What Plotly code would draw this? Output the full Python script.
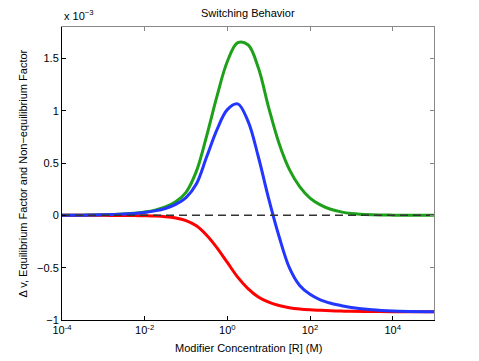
import plotly.graph_objects as go

# modifier concentration [R] (M), as decade exponents
log_conc = [-4, -3.5, -3, -2.5, -2.25, -2, -1.75, -1.5, -1.25, -1, -0.75, -0.5, -0.25,
            0, 0.25, 0.5, 0.75, 1, 1.25, 1.5, 1.75, 2, 2.25, 2.5, 2.75, 3, 3.5, 4, 5]
conc = [10 ** e for e in log_conc]

# values in units of 1e-3
equilibrium = [0, 0.002, 0.005, 0.013, 0.02, 0.032, 0.05, 0.08, 0.13, 0.22, 0.42, 0.76, 1.14,
               1.47, 1.65, 1.63, 1.41, 1.03, 0.69, 0.44, 0.275, 0.165, 0.1, 0.058, 0.033, 0.018, 0.006, 0.002, 0]
non_equilibrium = [0, 0, 0, -0.001, -0.002, -0.004, -0.007, -0.013, -0.025, -0.05, -0.1, -0.19, -0.31,
                   -0.45, -0.59, -0.70, -0.78, -0.83, -0.862, -0.882, -0.895, -0.903, -0.908, -0.912, -0.915, -0.917, -0.919, -0.92, -0.92]
delta_v = [0, 0.002, 0.005, 0.012, 0.018, 0.028, 0.043, 0.066, 0.105, 0.17, 0.3, 0.56, 0.82,
           1.01, 1.065, 0.9, 0.56, 0.16, -0.2, -0.5, -0.67, -0.755, -0.808, -0.84, -0.862, -0.88, -0.902, -0.913, -0.92]
zero_line = [0, 0]
zero_x = [1e-4, 1e5]

xtick_vals = [1e-4, 1e-2, 1e0, 1e2, 1e4]
xtick_text = ['10<sup>-4</sup>', '10<sup>-2</sup>', '10<sup>0</sup>', '10<sup>2</sup>', '10<sup>4</sup>']
ytick_vals = [-1, -0.5, 0, 0.5, 1, 1.5]
ytick_text = ['\u22121', '\u22120.5', '0', '0.5', '1', '1.5']

font = dict(family='Liberation Sans, Arial, sans-serif', size=11, color='black')

fig = go.Figure()
fig.add_trace(go.Scatter(x=conc, y=equilibrium, mode='lines', line=dict(color='#1fa01a', width=3, shape='spline')))
fig.add_trace(go.Scatter(x=conc, y=non_equilibrium, mode='lines', line=dict(color='#ff0000', width=3, shape='spline')))
fig.add_trace(go.Scatter(x=conc, y=delta_v, mode='lines', line=dict(color='#2236ff', width=3, shape='spline')))
fig.add_trace(go.Scatter(x=zero_x, y=zero_line, mode='lines', line=dict(color='#333333', width=1.5, dash='8px,5px')))

# page body adds an 8px offset, so the figure is a bit smaller than the window
fig.update_layout(
    width=471, height=353,
    margin=dict(l=54, r=45, t=19, b=41),
    paper_bgcolor='white', plot_bgcolor='white',
    showlegend=False, font=font,
    xaxis=dict(type='log', range=[-4, 5], tickvals=xtick_vals, ticktext=xtick_text,
               ticks='inside', ticklen=4, tickcolor='black', linecolor='black', linewidth=1,
               showgrid=False, zeroline=False, showline=True, tickfont=font),
    yaxis=dict(range=[-1, 1.8], tickvals=ytick_vals, ticktext=ytick_text,
               ticks='inside', ticklen=4, tickcolor='black', linecolor='black', linewidth=1,
               showgrid=False, zeroline=False, showline=True, tickfont=font),
    xaxis2=dict(type='log', range=[-4, 5], tickvals=xtick_vals, showticklabels=False,
                overlaying='x', side='top', ticks='inside', ticklen=4, tickcolor='#888888',
                linecolor='#888888', showline=True, showgrid=False, zeroline=False),
    yaxis2=dict(range=[-1, 1.8], tickvals=ytick_vals, showticklabels=False,
                overlaying='y', side='right', ticks='inside', ticklen=4, tickcolor='#888888',
                linecolor='#888888', showline=True, showgrid=False, zeroline=False),
)
# invisible trace to activate top/right axes
fig.add_trace(go.Scatter(x=zero_x, y=zero_line, xaxis='x2', yaxis='y2', mode='lines',
                         line=dict(width=0), hoverinfo='skip'))

fig.add_annotation(text='Switching Behavior', xref='paper', yref='paper', x=0.5, y=1,
                   yshift=6, yanchor='bottom', showarrow=False, font=font)
fig.add_annotation(text='Modifier Concentration [R] (M)', xref='paper', yref='paper', x=0.5, y=0,
                   yshift=-20, yanchor='top', showarrow=False, font=font)
fig.add_annotation(text='\u0394 v, Equilibrium Factor and Non\u2212equilibrium Factor', xref='paper', yref='paper',
                   x=0, y=0.5, xshift=-40, xanchor='center', yanchor='middle', textangle=-90,
                   showarrow=False, font=font)
fig.add_annotation(text='x 10<sup>\u22123</sup>', xref='paper', yref='paper', x=0, y=1,
                   yshift=3, xanchor='left', yanchor='bottom', showarrow=False, font=font)

fig.write_html("out.html")
